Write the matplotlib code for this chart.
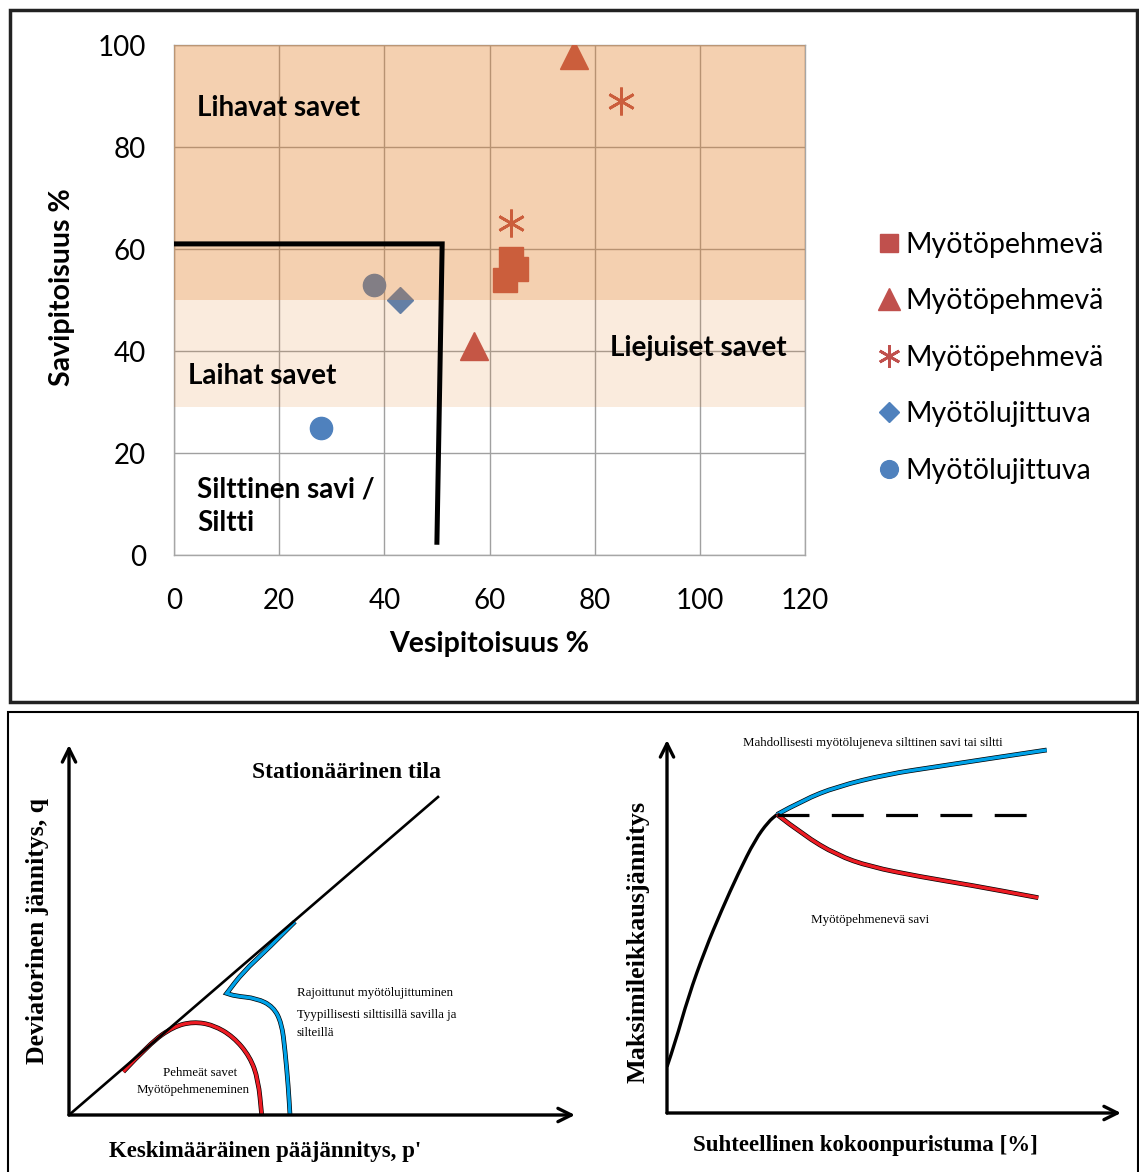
import matplotlib.pyplot as plt
import matplotlib.patches as mpatches
from matplotlib.path import Path

W, H = 1139, 1172

# --- scatter: water content vs clay content ---
square_x = [64, 65, 63]
square_y = [58, 56, 54]
triangle_x = [76, 57]
triangle_y = [98, 41]
star_x = [85, 64]
star_y = [89, 65]
diamond_x = [43]
diamond_y = [50]
circle_x = [38, 28]
circle_y = [53, 25]
series_labels = ["Myötöpehmevä", "Myötöpehmevä", "Myötöpehmevä",
                 "Myötölujittuva", "Myötölujittuva"]

fat_band = (50, 100)
lean_band = (29, 50)
border_x = [0, 51, 50]
border_y = [61, 61, 2.5]

x_ticks = [0, 20, 40, 60, 80, 100, 120]
y_ticks = [0, 20, 40, 60, 80, 100]

# --- p'-q schematic ---
ssl_p = [0, 3.69]
ssl_q = [0, 3.18]
soft_p = [0.543, 0.81, 1.043, 1.243, 1.443, 1.643, 1.81, 1.893, 1.927]
soft_q = [0.433, 0.717, 0.883, 0.933, 0.90, 0.783, 0.583, 0.35, 0.0]
hard_p = [2.26, 1.977, 1.743, 1.577, 1.577, 1.66, 1.877, 2.043, 2.127, 2.16, 2.193, 2.21]
hard_q = [1.933, 1.65, 1.433, 1.217, 1.217, 1.19, 1.167, 1.083, 0.917, 0.65, 0.283, 0.0]

# --- stress-strain schematic ---
elastic_e = [0.0, 0.08, 0.213, 0.38, 0.547, 0.713, 0.88, 1.013, 1.10]
elastic_t = [0.463, 0.697, 1.163, 1.63, 2.03, 2.397, 2.73, 2.913, 2.985]
harden_e = [1.10, 1.363, 1.697, 2.197, 2.697, 3.197, 3.797]
harden_t = [2.985, 3.13, 3.263, 3.387, 3.463, 3.54, 3.63]
soften_e = [1.10, 1.363, 1.697, 2.03, 2.53, 3.03, 3.713]
soften_t = [2.985, 2.78, 2.58, 2.463, 2.363, 2.28, 2.153]
peak_e = [1.10, 3.78]
peak_t = [2.985, 2.985]

RED = "#C0504D"
BLUE = "#4F81BD"
ORANGE = (226 / 255, 121 / 255, 29 / 255)
PAINT_RED = "#ED1C24"
PAINT_BLUE = "#00A2E8"
SANS = "Lato"
SERIF = "Liberation Serif"


def box(x0, y0, x1, y1):
    return [x0 / W, 1 - y1 / H, (x1 - x0) / W, (y1 - y0) / H]


def smooth(xs, ys):
    # quadratic bezier through the midpoints, points act as control points
    pts = list(zip(xs, ys))
    verts = [pts[0]]
    codes = [Path.MOVETO]
    for i in range(1, len(pts) - 1):
        mid = ((pts[i][0] + pts[i + 1][0]) / 2, (pts[i][1] + pts[i + 1][1]) / 2)
        verts += [pts[i], mid]
        codes += [Path.CURVE3, Path.CURVE3]
    verts.append(pts[-1])
    codes.append(Path.LINETO)
    return Path(verts, codes)


def curve(ax, xs, ys, color, lw=2.4, edge=True):
    if edge:
        ax.add_patch(mpatches.PathPatch(smooth(xs, ys), fill=False, ec="black",
                                        lw=lw + 1.0, capstyle="butt"))
    ax.add_patch(mpatches.PathPatch(smooth(xs, ys), fill=False, ec=color,
                                    lw=lw, capstyle="butt"))


fig = plt.figure(figsize=(W / 100, H / 100), dpi=100)

# panel frames
fig.add_artist(mpatches.Rectangle((10 / W, 1 - 702 / H), 1127 / W, 692 / H,
                                  transform=fig.transFigure, fill=False,
                                  lw=2.5, ec="#222222"))
fig.add_artist(mpatches.Rectangle((8 / W, 1 - 1180 / H), 1130 / W, 468 / H,
                                  transform=fig.transFigure, fill=False,
                                  lw=1.5, ec="black"))

# ---------------- top: scatter ----------------
ax = fig.add_axes(box(174, 45, 805, 555))
ax.set_xlim(0, 120)
ax.set_ylim(0, 100)
ax.set_xticks(x_ticks)
ax.set_yticks(y_ticks)
ax.grid(True, color="#A0A0A0", lw=1)
ax.set_axisbelow(True)
for s in ax.spines.values():
    s.set_color("#A6A6A6")
    s.set_linewidth(1)
ax.tick_params(length=0, labelsize=20, pad=20)
for lab in ax.get_xticklabels() + ax.get_yticklabels():
    lab.set_fontfamily(SANS)
ax.tick_params(axis="x", pad=24)

ax.plot(square_x, square_y, "s", color=RED, ms=17, zorder=3, label=series_labels[0])
ax.plot(triangle_x, triangle_y, "^", color=RED, ms=20, zorder=3, label=series_labels[1])
ax.plot(star_x, star_y, ls="none", marker=(6, 2, 0), color=RED, mec=RED,
        ms=20, mew=2, zorder=3, label=series_labels[2])
ax.plot(diamond_x, diamond_y, "D", color=BLUE, ms=13, zorder=3, label=series_labels[3])
ax.plot(circle_x, circle_y, "o", color=BLUE, ms=16, zorder=3, label=series_labels[4])

# translucent clay classes over the points
ax.axhspan(*fat_band, color=ORANGE, alpha=0.35, lw=0, zorder=4)
ax.axhspan(*lean_band, color=ORANGE, alpha=0.15, lw=0, zorder=4)

ax.plot(border_x, border_y, color="black", lw=3.6, zorder=6, solid_joinstyle="miter")

txt = dict(fontsize=20, fontweight="bold", family=SANS, va="center", zorder=7)
ax.text(4.4, 87.6, "Lihavat savet", **txt)
ax.text(2.7, 35, "Laihat savet", **txt)
ax.text(82.9, 40.6, "Liejuiset savet", **txt)
ax.text(4.4, 9.6, "Silttinen savi /\nSiltti", linespacing=1.35, **txt)

ax.set_xlabel("Vesipitoisuus %", fontsize=20.5, fontweight="bold", family=SANS, labelpad=12)
ax.text(-0.178, 0.525, "Savipitoisuus %", fontsize=20.5, fontweight="bold", family=SANS,
        rotation=90, ha="center", va="center", transform=ax.transAxes)

leg = ax.legend(loc="center left", bbox_to_anchor=(1.075, 0.387), frameon=False,
                prop={"family": SANS, "size": 20.5}, handlelength=0.8,
                handletextpad=0.18, labelspacing=1.07, numpoints=1, markerscale=0.8)

# ---------------- bottom left: p'-q ----------------
a1 = fig.add_axes(box(69, 735, 589, 1115))
a1.set_xlim(0, 5.2)
a1.set_ylim(0, 3.8)
a1.axis("off")
arrow = dict(arrowstyle="->", lw=2.4, color="black", mutation_scale=24,
             shrinkA=0, shrinkB=0)
a1.annotate("", xy=(0, 3.70), xytext=(0, 0), arrowprops=arrow)
a1.annotate("", xy=(5.06, 0), xytext=(0, 0), arrowprops=arrow)
a1.plot(ssl_p, ssl_q, color="black", lw=1.9)
curve(a1, soft_p, soft_q, PAINT_RED)
curve(a1, hard_p, hard_q, PAINT_BLUE)

a1.text(2.78, 3.42, "Stationäärinen tila", family=SERIF, fontweight="bold",
        fontsize=17, ha="center", va="center")
small = dict(family=SERIF, fontsize=9.3, va="center")
a1.text(2.28, 1.22, "Rajoittunut myötölujittuminen", ha="left", **small)
a1.text(2.28, 1.00, "Tyypillisesti silttisillä savilla ja", ha="left", **small)
a1.text(2.28, 0.82, "silteillä", ha="left", **small)
a1.text(1.31, 0.42, "Pehmeät savet", ha="center", **small)
a1.text(1.24, 0.25, "Myötöpehmeneminen", ha="center", **small)
a1.text(1.96, -0.37, "Keskimääräinen pääjännitys, p'", family=SERIF, fontweight="bold",
        fontsize=16.5, ha="center", va="center", clip_on=False)
a1.text(-0.31, 1.84, "Deviatorinen jännitys, q", family=SERIF, fontweight="bold",
        fontsize=18.5, rotation=90, ha="center", va="center", clip_on=False)

# ---------------- bottom right: stress-strain ----------------
a2 = fig.add_axes(box(667, 733, 1127, 1113))
a2.set_xlim(0, 4.6)
a2.set_ylim(0, 3.8)
a2.axis("off")
a2.annotate("", xy=(0, 3.73), xytext=(0, 0), arrowprops=arrow)
a2.annotate("", xy=(4.54, 0), xytext=(0, 0), arrowprops=arrow)
curve(a2, elastic_e, elastic_t, "black", lw=2.4, edge=False)
a2.plot(peak_e, peak_t, color="black", lw=2.3, ls=(0, (10, 7)))
curve(a2, harden_e, harden_t, PAINT_BLUE)
curve(a2, soften_e, soften_t, PAINT_RED)

a2.text(2.06, 3.70, "Mahdollisesti myötölujeneva silttinen savi tai siltti", family=SERIF,
        fontsize=9.3, ha="center", va="center", clip_on=False)
a2.text(2.03, 1.93, "Myötöpehmenevä savi", family=SERIF, fontsize=9.4,
        ha="center", va="center")
a2.text(1.98, -0.32, "Suhteellinen kokoonpuristuma [%]", family=SERIF, fontweight="bold",
        fontsize=16.5, ha="center", va="center", clip_on=False)
a2.text(-0.29, 1.71, "Maksimileikkausjännitys", family=SERIF, fontweight="bold",
        fontsize=18.8, rotation=90, ha="center", va="center", clip_on=False)

fig.savefig("out.png", dpi=100)
